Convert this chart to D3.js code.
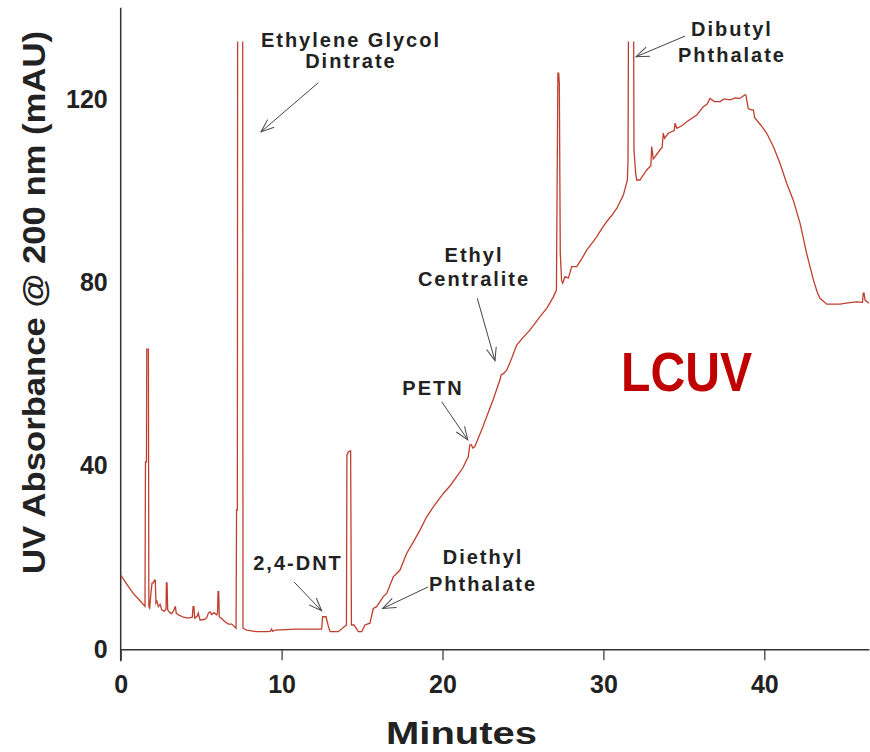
<!DOCTYPE html>
<html>
<head>
<meta charset="utf-8">
<script src="https://cdn.jsdelivr.net/npm/d3@7"></script>
<style>
  body { margin: 0; background: #fff; }
  text { font-family: "Liberation Sans", Arial, sans-serif; font-weight: bold; fill: #222; }
</style>
</head>
<body>
<div id="chart"></div>
<script>
// chromatogram trace (minutes, mAU)
var minutes = [
  0, 0.3, 0.78, 1.2, 1.51, 1.54, 1.6, 1.62, 1.72, 1.75, 1.8, 1.88, 1.95, 2.03, 2.1, 2.15, 2.19, 2.25, 2.34, 2.45,
  2.55, 2.7, 2.82, 2.84, 2.88, 2.92, 3.05, 3.17, 3.3, 3.4, 3.45, 3.6, 3.89, 4.2, 4.45, 4.5, 4.55, 4.6, 4.75, 4.82,
  4.93, 5.2, 5.35, 5.45, 5.55, 5.65, 5.8, 5.97, 6.02, 6.05, 6.09, 6.13, 6.3, 6.48, 6.69, 6.9, 7.05, 7.17, 7.2, 7.25,
  7.27, 7.58, 7.6, 7.83, 8.45, 9.04, 9.3, 9.38, 9.45, 9.6, 10.94, 12.49, 12.55, 12.76, 12.9, 13.01, 13.52, 14.03, 14.06, 14.15,
  14.29, 14.34, 14.5, 14.67, 14.77, 14.98, 15.18, 15.49, 15.7, 15.91, 16.32, 16.53, 16.94, 17.36, 17.77, 18.2, 18.6, 19.0, 19.43, 20.05,
  20.5, 20.88, 21.25, 21.6, 21.7, 21.8, 21.88, 22.0, 22.13, 22.45, 22.75, 23.15, 23.57, 23.65, 23.8, 23.99, 24.3, 24.61, 25.0, 25.44,
  26.06, 26.5, 26.89, 27.08, 27.12, 27.17, 27.22, 27.26, 27.32, 27.4, 27.47, 27.61, 27.82, 28.03, 28.34, 28.65, 28.96, 29.27, 29.58, 29.9,
  30.2, 30.5, 30.83, 31.24, 31.49, 31.53, 31.58, 31.86, 31.9, 32.0, 32.07, 32.27, 32.69, 32.95, 33.0, 33.1, 33.21, 33.52, 33.65, 33.72,
  33.8, 34.03, 34.4, 34.45, 34.56, 34.9, 35.18, 35.8, 36.21, 36.45, 36.62, 36.9, 37.25, 37.5, 37.87, 38.2, 38.49, 38.8, 38.86, 39.0,
  39.2, 39.32, 39.4, 39.52, 39.8, 40.15, 40.56, 40.98, 41.39, 41.8, 42.22, 42.63, 43.05, 43.3, 43.46, 43.88, 44.7, 45.2, 45.74, 46.1,
  46.15, 46.2, 46.26, 46.5
];
var absorbance = [
  16.2, 14.6, 12.2, 10.6, 9.4, 40.9, 40.9, 65.5, 65.5, 9.3, 9.0, 12.3, 14.5, 14.5, 15.1, 15.1, 10.1, 10.5, 9.3, 9.8,
  8.6, 8.3, 8.8, 14.5, 14.5, 8.6, 8.0, 7.8, 8.5, 9.4, 7.9, 7.5, 7.0, 6.8, 7.0, 9.3, 9.3, 6.8, 7.2, 7.9,
  6.4, 6.5, 6.9, 7.9, 8.2, 7.6, 8.0, 7.5, 8.0, 12.6, 12.6, 7.1, 6.6, 6.0, 5.5, 5.5, 5.0, 4.6, 30.4, 30.4,
  160, 160, 4.6, 4.2, 3.85, 3.85, 3.9, 4.4, 3.9, 4.2, 4.4, 4.4, 7.1, 7.1, 5.1, 3.85, 3.85, 5.3, 42.4, 43.1,
  43.3, 5.3, 5.3, 4.4, 3.85, 3.85, 5.3, 5.7, 8.9, 9.3, 11.5, 12.2, 15.8, 17.3, 20.9, 23.5, 26.0, 28.8, 31.1, 34.0,
  35.8, 37.7, 39.5, 42.0, 44.6, 44.6, 43.9, 44.2, 45.3, 48.0, 50.8, 54.5, 58.8, 59.9, 60.2, 60.9, 63.5, 66.4, 68.0, 69.7,
  72.6, 74.5, 76.9, 78.4, 99.5, 125.7, 125.7, 123.5, 86.4, 80.5, 79.9, 81.3, 81.0, 83.5, 83.5, 85.2, 87.1, 88.5, 90.0, 91.8,
  93.3, 94.6, 96.2, 99.1, 102.4, 106.8, 160, 160, 109, 104, 102.4, 102.4, 104.6, 105.5, 109.7, 107.0, 107.5, 109, 109.5, 112.6,
  111.5, 112.6, 113.2, 114.8, 113.7, 114.3, 115.1, 116.6, 118.4, 119.0, 120.2, 119.5, 119.5, 120.1, 119.9, 120.3, 120.2, 121.0, 120.9, 118.0,
  117.7, 117.7, 116.0, 115.5, 114.3, 112.6, 109.7, 106.0, 101.7, 98.0, 93.0, 86.4, 80.6, 77.8, 76.6, 75.3, 75.3, 75.6, 75.8, 75.7,
  77.7, 77.7, 76.2, 75.5
];

var xTicks = [0, 10, 20, 30, 40];
var yTicks = [0, 40, 80, 120];

// peak labels: text lines, baselines (mAU), label centre (min), arrow tail and tip (min, mAU)
var peakNames = [
  ["Ethylene Glycol", "Dintrate"],
  ["2,4-DNT"],
  ["Diethyl", "Phthalate"],
  ["PETN"],
  ["Ethyl", "Centralite"],
  ["Dibutyl", "Phthalate"]
];
var labelAt = [[14.31, 131.4, 126.8], [11.02, 17.3], [22.52, 18.6, 12.7], [19.41, 55.5], [21.96, 84.6, 79.2], [37.99, 133.8, 128.2]];
var arrowFrom = [[12.27, 123.6], [10.77, 14.7], [19.1, 13.6], [19.95, 54.0], [22.16, 76.6], [35.07, 133.8]];
var arrowTo = [[8.72, 112.9], [12.49, 8.4], [16.28, 8.9], [21.57, 45.7], [23.26, 63.0], [32.03, 129.3]];

var W = 870, H = 752;
var svg = d3.select("#chart").append("svg")
    .attr("width", W)
    .attr("height", H);

var x = d3.scaleLinear().domain([0, 46.5]).range([120.7, 868.9]);
var y = d3.scaleLinear().domain([0, 140]).range([649.3, 7.7]);

svg.append("defs").append("clipPath").attr("id", "clip")
  .append("rect")
    .attr("x", x(0)).attr("y", y(132.6))
    .attr("width", x(46.5) - x(0)).attr("height", y(0) - y(132.6) + 10);

var marker = svg.select("defs").append("marker")
    .attr("id", "arrow")
    .attr("markerUnits", "userSpaceOnUse")
    .attr("viewBox", "-14 -7 16 14")
    .attr("markerWidth", 16).attr("markerHeight", 14)
    .attr("orient", "auto")
    .attr("refX", 0).attr("refY", 0);
marker.append("path")
    .attr("d", "M-13,-5L0,0L-13,5")
    .attr("fill", "none")
    .attr("stroke", "#444")
    .attr("stroke-width", 1);

// axes
const xAxis = d3.axisBottom(x).tickValues(xTicks).tickSize(11).tickSizeOuter(0);
const gx = svg.append("g").attr("transform", `translate(0, ${y(0)})`).call(xAxis);
gx.select(".domain").attr("stroke", "#333").attr("stroke-width", 1.5);
gx.selectAll(".tick line").attr("stroke", "#333").attr("stroke-width", 1.2);
gx.selectAll(".tick text")
    .attr("y", 44).attr("dy", 0)
    .attr("font-size", 25)
    .attr("font-family", null)
    .attr("fill", "#222");

const yAxis = d3.axisLeft(y).tickValues(yTicks).tickSize(0).tickPadding(13);
const gy = svg.append("g").attr("transform", `translate(${x(0)}, 0)`).call(yAxis);
gy.select(".domain").remove();
gy.selectAll(".tick text")
    .attr("font-size", 25)
    .attr("font-family", null)
    .attr("fill", "#222");
svg.append("line")
    .attr("x1", x(0)).attr("x2", x(0))
    .attr("y1", y(140)).attr("y2", y(0) + 12)
    .attr("stroke", "#333").attr("stroke-width", 1.5);

// trace
const trace = minutes.map((t, i) => [t, absorbance[i]]);
const line = d3.line()
    .x(d => x(d[0]))
    .y(d => y(d[1]));
svg.append("path")
    .datum(trace)
    .attr("clip-path", "url(#clip)")
    .attr("fill", "none")
    .attr("stroke", "#bf3f2f")
    .attr("stroke-width", 1.3)
    .attr("stroke-linejoin", "miter")
    .attr("d", line);

// peak labels
peakNames.forEach((names, i) => {
  const g = svg.append("g");
  names.forEach((s, j) => {
    g.append("text")
      .attr("x", x(labelAt[i][0]))
      .attr("y", y(labelAt[i][j + 1]))
      .attr("text-anchor", "middle")
      .attr("font-size", 20)
      .attr("letter-spacing", "2px")
      .text(s);
  });
  g.append("line")
    .attr("x1", x(arrowFrom[i][0])).attr("y1", y(arrowFrom[i][1]))
    .attr("x2", x(arrowTo[i][0])).attr("y2", y(arrowTo[i][1]))
    .attr("stroke", "#444").attr("stroke-width", 1)
    .attr("marker-end", "url(#arrow)");
});

// titles
svg.append("text")
    .attr("transform", "translate(45, 574) rotate(-90)")
    .attr("font-size", 31)
    .attr("textLength", 543)
    .attr("lengthAdjust", "spacingAndGlyphs")
    .text("UV Absorbance @ 200 nm (mAU)");

svg.append("text")
    .attr("x", 386).attr("y", 744)
    .attr("font-size", 32)
    .attr("textLength", 151)
    .attr("lengthAdjust", "spacingAndGlyphs")
    .text("Minutes");

svg.append("text")
    .attr("x", 621).attr("y", 391)
    .attr("font-size", 56)
    .attr("textLength", 131)
    .attr("lengthAdjust", "spacingAndGlyphs")
    .style("fill", "#c00000")
    .text("LCUV");
</script>
</body>
</html>
